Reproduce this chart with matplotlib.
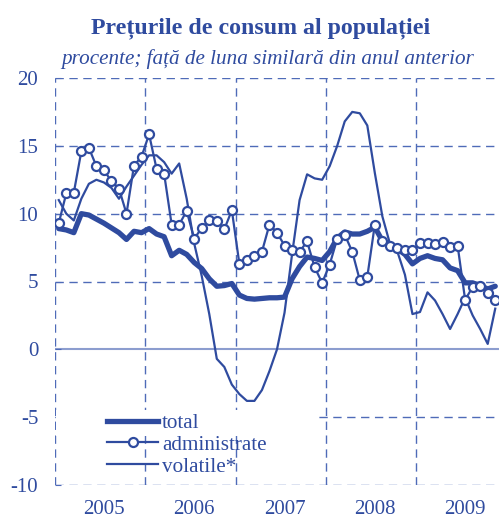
import numpy as np
import matplotlib
matplotlib.use('Agg')
import matplotlib.pyplot as plt
from matplotlib.patches import Rectangle
from matplotlib.lines import Line2D

# monthly, Jan 2005 - Nov 2009
years = ['2005', '2006', '2007', '2008', '2009']

total = [
    8.9, 8.8, 8.6, 10.0, 9.9, 9.6, 9.3, 8.95, 8.6, 8.1, 8.7, 8.6,
    8.9, 8.5, 8.3, 6.9, 7.3, 7.0, 6.4, 5.95, 5.2, 4.65, 4.7, 4.85,
    4.0, 3.75, 3.7, 3.75, 3.8, 3.8, 3.85, 5.2, 6.1, 6.8, 6.7, 6.55,
    7.2, 8.2, 8.65, 8.5, 8.5, 8.7, 9.0, 8.0, 7.7, 7.4, 7.0, 6.3,
    6.7, 6.9, 6.7, 6.6, 6.0, 5.8, 4.9, 4.9, 4.7, 4.45, 4.65]

administrate = [
    9.3, 11.5, 11.55, 14.6, 14.85, 13.5, 13.2, 12.4, 11.85, 10.0, 13.55, 14.2,
    15.85, 13.3, 12.95, 9.2, 9.2, 10.2, 8.15, 8.95, 9.5, 9.45, 8.85, 10.25,
    6.3, 6.6, 6.85, 7.2, 9.2, 8.6, 7.65, 7.35, 7.2, 7.95, 6.05, 4.9,
    6.25, 8.15, 8.45, 7.2, 5.1, 5.35, 9.2, 7.95, 7.65, 7.5, 7.3, 7.3,
    7.85, 7.85, 7.75, 7.9, 7.55, 7.65, 3.65, 4.6, 4.65, 4.15, 3.6]

volatile = [
    11.0, 10.0, 9.5, 11.1, 12.2, 12.5, 12.3, 11.9, 11.1, 12.0, 12.8, 13.6,
    14.3, 14.3, 13.8, 12.95, 13.7, 11.1, 7.8, 5.4, 2.6, -0.7, -1.3, -2.6,
    -3.3, -3.8, -3.8, -3.0, -1.6, 0.0, 2.7, 7.0, 11.0, 12.9, 12.6, 12.5,
    13.5, 15.0, 16.8, 17.5, 17.4, 16.5, 13.0, 9.8, 7.8, 7.2, 5.5, 2.6,
    2.75, 4.2, 3.6, 2.6, 1.5, 2.6, 3.8, 2.5, 1.5, 0.4, 3.0]

blue = '#2f4b9f'
grid_c = '#4f6bb8'

plt.rcParams['font.family'] = ['Liberation Serif', 'DejaVu Serif']

fig = plt.figure(figsize=(4.99, 5.2), dpi=100)
ax = fig.add_axes([55 / 499, 1 - 485 / 520, 1 - 55 / 499, (485 - 78) / 520])

x = np.arange(len(total)) + 0.5
ax.set_xlim(0, len(total))
ax.set_ylim(-10, 20)

# grid
for yv in [20, 15, 10, 5, -5, -10]:
    ax.axhline(yv, color=grid_c, lw=1, ls=(0, (6, 4)), zorder=1)
ax.axhline(0, color='#8c9dcf', lw=1.5, zorder=1)
for i in range(len(years)):
    ax.axvline(i * 12, color=grid_c, lw=1, ls=(0, (6, 4)), zorder=1)

# legend backdrop
ax.add_patch(Rectangle((0.1, -6.4), 34.5, 1.9, facecolor='white', edgecolor='none', zorder=2))

ax.plot(x, volatile, color=blue, lw=1.6, zorder=3)
ax.plot(x, total, color=blue, lw=3.8, solid_capstyle='round', zorder=4)
ax.plot(x, administrate, color=blue, lw=1.6, marker='o', ms=6.5,
        mfc='white', mec=blue, mew=1.6, zorder=5)

for s in ax.spines.values():
    s.set_visible(False)

ax.set_yticks([20, 15, 10, 5, 0, -5, -10])
ax.set_yticklabels(['20', '15', '10', '5', '0', '-5', '-10'])
ax.tick_params(axis='y', direction='in', length=4, color=grid_c, pad=12,
               labelsize=15, labelcolor=blue)
ax.set_xticks([i * 12 for i in range(len(years))])
ax.set_xticklabels([])
ax.set_xticks([i * 12 + 6.5 for i in range(len(years))], minor=True)
ax.set_xticklabels(years, minor=True)
ax.tick_params(axis='x', which='both', length=0, pad=10.5, labelsize=15, labelcolor=blue)

handles = [
    Line2D([], [], color=blue, lw=3.8),
    Line2D([], [], color=blue, lw=1.6, marker='o', ms=6.5, mfc='white', mec=blue, mew=1.6),
    Line2D([], [], color=blue, lw=1.6),
]
leg = ax.legend(handles, ['total', 'administrate', 'volatile*'], loc='upper left',
                bbox_to_anchor=(103 / 499, 1 - 409 / 520), bbox_transform=fig.transFigure,
                frameon=False, fontsize=15.2, handlelength=2.4, handletextpad=0.2,
                labelspacing=0.1, borderpad=0.2, borderaxespad=0, numpoints=1)
for t in leg.get_texts():
    t.set_color(blue)

fig.text(261 / 499, 1 - 28 / 520, 'Prețurile de consum al populației', ha='center', va='center',
         fontsize=17.2, fontweight='bold', color=blue)
fig.text(268 / 499, 1 - 59 / 520, 'procente; față de luna similară din anul anterior',
         ha='center', va='center', fontsize=15.2, style='italic', color=blue)

fig.savefig('out.png', dpi=100)
